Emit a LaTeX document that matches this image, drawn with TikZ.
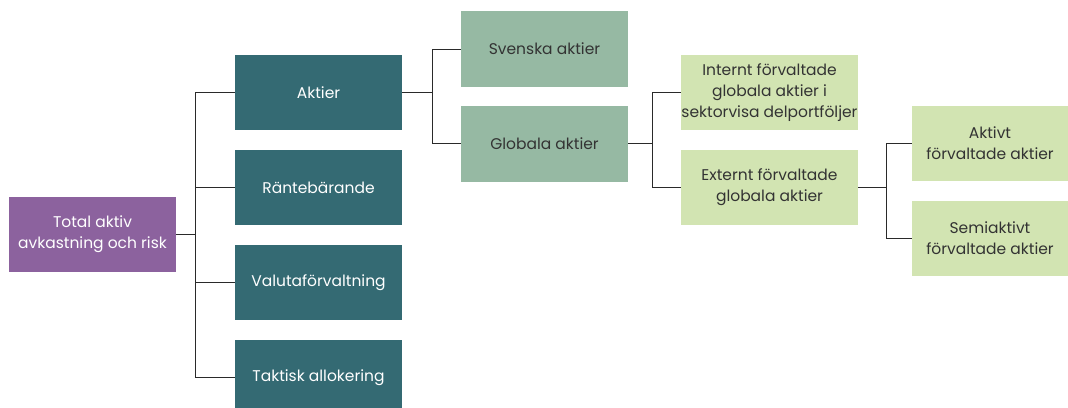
\documentclass[tikz,border=0pt]{standalone}
\usepackage{fontspec}
\setmainfont{Poppins}
\definecolor{purp}{HTML}{8C629E}
\definecolor{teal}{HTML}{346A73}
\definecolor{midg}{HTML}{96B9A3}
\definecolor{ltg}{HTML}{D2E4B2}
\definecolor{txt}{HTML}{333333}
\definecolor{ln}{HTML}{2A2A2A}
\begin{document}
\begin{tikzpicture}[x=1pt,y=-1pt,
  box/.style={rectangle, inner sep=0pt, align=center, font=\fontsize{15.5}{21}\selectfont},
  purpbox/.style={box, fill=purp, text=white, minimum width=167pt, minimum height=75pt},
  tealbox/.style={box, fill=teal, text=white, minimum width=167pt, minimum height=75pt},
  midbox/.style={box, fill=midg, text=txt, minimum width=167pt, minimum height=76pt},
  ltbox/.style={box, fill=ltg, text=txt, minimum width=177pt, minimum height=75pt},
  ltbox2/.style={box, fill=ltg, text=txt, minimum width=156pt, minimum height=75pt},
  conn/.style={draw=ln, line width=1pt}]
\useasboundingbox (0,0) rectangle (1068,407);
\node[purpbox] (tot) at (92.5,234.5) {Total aktiv\\avkastning och risk};
\node[tealbox] (akt) at (318.5,92.5) {Aktier};
\node[tealbox] (rb) at (318.5,187.5) {Räntebärande};
\node[tealbox] (val) at (318.5,282.5) {Valutaförvaltning};
\node[tealbox] (tak) at (318.5,377.5) {Taktisk allokering};
\node[midbox] (sv) at (544.5,49) {Svenska aktier};
\node[midbox] (gl) at (544.5,143.5) {Globala aktier};
\node[ltbox] (int) at (769.5,92.5) {Internt förvaltade\\globala aktier i\\sektorvisa delportföljer};
\node[ltbox] (ext) at (769.5,187.5) {Externt förvaltade\\globala aktier};
\node[ltbox2] (ak) at (990,143.5) {Aktivt\\förvaltade aktier};
\node[ltbox2] (sa) at (990,238) {Semiaktivt\\förvaltade aktier};
\coordinate (b1) at (195,234.5);
\coordinate (b2) at (432,92.5);
\coordinate (b3) at (652,143.5);
\coordinate (b4) at (886,187.5);
\draw[conn] (tot.east) -- (b1);
\draw[conn] (akt.west) -| (b1);
\draw[conn] (rb.west) -| (b1);
\draw[conn] (val.west) -| (b1);
\draw[conn] (tak.west) -| (b1);
\draw[conn] (akt.east) -- (b2);
\draw[conn] (sv.west) -| (b2);
\draw[conn] (gl.west) -| (b2);
\draw[conn] (gl.east) -- (b3);
\draw[conn] (int.west) -| (b3);
\draw[conn] (ext.west) -| (b3);
\draw[conn] (ext.east) -- (b4);
\draw[conn] (ak.west) -| (b4);
\draw[conn] (sa.west) -| (b4);
\end{tikzpicture}
\end{document}
